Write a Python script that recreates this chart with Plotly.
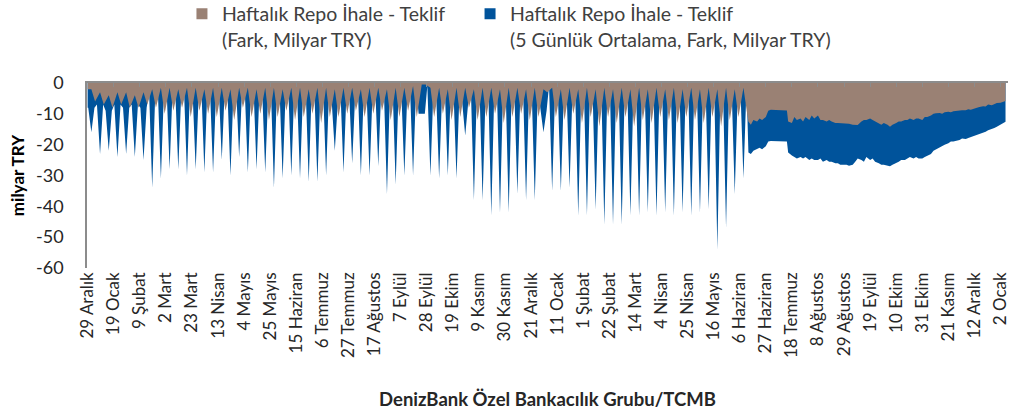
import plotly.graph_objects as go
import pandas as pd

# ---------------- data ----------------
# Phase 1: weekly cycle (week starting Monday), values in milyar TRY
week_start = "2014-12-29"
blue_trough = [-16, -23, -22, -24, -23, -24, -25, -34, -31, -28,
               -28, -30, -28, -29, -29, -25, -30, -24, -29, -28,
               -29, -34, -31, -30, -31, -32, -32, -30, -22, -29,
               -26, -30, -30, -27, -36, -33, -30, -30, -10, -30,
               -31, -30, -31, -17, -38, -38, -43, -42, -42, -36,
               -38, -38, -16, -35, -35, -34, -43, -43, -41, -46,
               -46, -46, -43, -43, -42, -43, -42, -43, -42, -43,
               -42, -41, -54, -47, -36, -31]
blue_base = [-8, -7, -9, -7, -8, -7, -8, -3, -2, -1,
             -2, -1, -3, -1, -2, -1, -2, -1, -2, -1,
             -2, -1, -2, -1, -2, -1, -2, -1, -6, -2,
             -3, -1, -2, -1, -2, -1, -2, -1, -10, -1,
             -2, -1, -2, -6, -1, -2, -1, -2, -1, -2,
             -1, -2, -9, -1, -2, -1, -2, -1, -2, -1,
             -2, -1, -2, -1, -2, -1, -2, -1, -2, -1,
             -2, -1, -2, -1, -2, -1]
brown_trough = [-6, -7, -8, -7, -8, -8, -7, -8, -10, -9,
                -8, -11, -9, -10, -11, -9, -12, -8, -11, -10,
                -12, -11, -9, -12, -11, -10, -13, -11, -11, -10,
                -9, -11, -10, -9, -12, -11, -9, -11, -0.5, -11,
                -10, -12, -11, -8, -12, -11, -10, -13, -11, -10,
                -12, -11, -3, -11, -12, -10, -13, -11, -14, -11,
                -13, -11, -14, -12, -13, -11, -12, -13, -11, -12,
                -13, -11, -14, -12, -11, -10]
brown_base = [-2, -3, -4, -3, -3, -4, -3, -2, -1.5, -1.5,
              -2, -1.5, -1.5, -2, -1.5, -1.5, -2, -1.5, -1.5, -2,
              -1.5, -1.5, -2, -1.5, -1.5, -2, -1.5, -1.5, -2, -1.5,
              -1.5, -2, -1.5, -1.5, -2, -1.5, -1.5, -1, -0.5, -1.5,
              -1.5, -2, -1.5, -1.5, -2, -1.5, -1.5, -2, -1.5, -1.5,
              -2, -1.5, -2, -1.5, -2, -1.5, -2, -1.5, -2, -1.5,
              -2, -1.5, -2, -1.5, -2, -1.5, -2, -1.5, -2, -1.5,
              -2, -1.5, -2, -1.5, -2, -1.5]

# Phase 2: continuous band
p2_dates = ["2016-06-13", "2016-06-15", "2016-06-17", "2016-06-20", "2016-06-22", "2016-06-24",
            "2016-06-27", "2016-06-29", "2016-07-01", "2016-07-14", "2016-07-15", "2016-07-18",
            "2016-07-20", "2016-07-22", "2016-07-25", "2016-07-27", "2016-07-29", "2016-08-01",
            "2016-08-03", "2016-08-05", "2016-08-08", "2016-08-10", "2016-08-12", "2016-08-15",
            "2016-08-17", "2016-08-19", "2016-08-22", "2016-08-24", "2016-08-26", "2016-08-29",
            "2016-08-31", "2016-09-02", "2016-09-05", "2016-09-07", "2016-09-09", "2016-09-12",
            "2016-09-14", "2016-09-16", "2016-09-19", "2016-09-21", "2016-09-23", "2016-09-26",
            "2016-09-28", "2016-09-30", "2016-10-03", "2016-10-05", "2016-10-07", "2016-10-10",
            "2016-10-12", "2016-10-14", "2016-10-17", "2016-10-19", "2016-10-21", "2016-10-24",
            "2016-10-26", "2016-10-28", "2016-10-31", "2016-11-02", "2016-11-04", "2016-11-07",
            "2016-11-09", "2016-11-11", "2016-11-14", "2016-11-16", "2016-11-18", "2016-11-21",
            "2016-11-23", "2016-11-25", "2016-11-28", "2016-11-30", "2016-12-02", "2016-12-05",
            "2016-12-07", "2016-12-09", "2016-12-12", "2016-12-14", "2016-12-16", "2016-12-19",
            "2016-12-21", "2016-12-23", "2016-12-26", "2016-12-28", "2016-12-30", "2017-01-02",
            "2017-01-04", "2017-01-06"]
p2_brown = [-12.5, -13.5, -12.0, -12.5, -11.5, -12.0,
            -11.0, -9.0, -8.7, -8.9, -12.5, -13.0,
            -11.0, -12.0, -11.5, -12.5, -11.0, -12.0,
            -10.5, -11.5, -10.5, -12.0, -12.0, -12.5,
            -12.0, -12.5, -13.0, -13.0, -13.0, -13.0,
            -13.0, -13.2, -13.5, -13.6, -13.6, -12.5,
            -12.0, -12.0, -11.5, -12.0, -12.5, -13.0,
            -13.5, -13.0, -13.5, -14.2, -13.5, -13.0,
            -12.5, -12.5, -12.0, -12.0, -11.5, -12.0,
            -11.5, -11.5, -12.0, -11.0, -11.0, -10.5,
            -10.0, -9.8, -9.7, -10.0, -9.5, -9.3,
            -9.5, -9.2, -9.0, -9.0, -8.8, -8.8,
            -8.5, -8.7, -8.2, -8.0, -7.8, -7.5,
            -7.6, -7.0, -7.2, -6.8, -6.5, -6.4,
            -6.0, -5.8]
p2_blue = [-22.5, -23.0, -22.0, -21.5, -21.0, -21.5,
           -20.5, -19.0, -18.8, -19.0, -22.5, -23.5,
           -24.0, -24.5, -24.0, -24.5, -24.0, -25.0,
           -24.5, -25.0, -25.0, -24.5, -25.5, -25.0,
           -25.5, -25.5, -26.0, -26.0, -26.5, -26.5,
           -26.5, -26.8, -26.5, -25.5, -24.5, -25.0,
           -25.5, -24.0, -25.0, -24.5, -25.5, -26.0,
           -26.5, -26.5, -26.8, -27.0, -26.5, -26.0,
           -25.5, -25.0, -25.0, -24.5, -24.0, -24.5,
           -24.0, -24.5, -24.5, -24.0, -23.5, -23.0,
           -22.0, -21.5, -21.0, -20.5, -20.0, -19.5,
           -19.0, -19.0, -18.8, -18.5, -18.0, -18.2,
           -17.8, -17.5, -17.2, -17.0, -16.5, -16.2,
           -15.8, -15.3, -15.0, -14.6, -14.2, -13.5,
           -13.0, -12.6]

tick_dates = ["2014-12-29", "2015-01-19", "2015-02-09", "2015-03-02", "2015-03-23", "2015-04-13",
              "2015-05-04", "2015-05-25", "2015-06-15", "2015-07-06", "2015-07-27", "2015-08-17",
              "2015-09-07", "2015-09-28", "2015-10-19", "2015-11-09", "2015-11-30", "2015-12-21",
              "2016-01-11", "2016-02-01", "2016-02-22", "2016-03-14", "2016-04-04", "2016-04-25",
              "2016-05-16", "2016-06-06", "2016-06-27", "2016-07-18", "2016-08-08", "2016-08-29",
              "2016-09-19", "2016-10-10", "2016-10-31", "2016-11-21", "2016-12-12", "2017-01-02"]
tick_labels = ["29 Aralık", "19 Ocak", "9 Şubat", "2 Mart", "23 Mart", "13 Nisan",
               "4 Mayıs", "25 Mayıs", "15 Haziran", "6 Temmuz", "27 Temmuz", "17 Ağustos",
               "7 Eylül", "28 Eylül", "19 Ekim", "9 Kasım", "30 Kasım", "21 Aralık",
               "11 Ocak", "1 Şubat", "22 Şubat", "14 Mart", "4 Nisan", "25 Nisan",
               "16 Mayıs", "6 Haziran", "27 Haziran", "18 Temmuz", "8 Ağustos", "29 Ağustos",
               "19 Eylül", "10 Ekim", "31 Ekim", "21 Kasım", "12 Aralık", "2 Ocak"]
y_ticks = [0, -10, -20, -30, -40, -50, -60]
y_labels = ["0", "-10", "-20", "-30", "-40", "-50", "-60"]

name_brown = "Haftalık Repo İhale - Teklif<br>(Fark, Milyar TRY)"
name_blue = "Haftalık Repo İhale - Teklif<br>(5 Günlük Ortalama, Fark, Milyar TRY)"

# ---------------- build series ----------------
mondays = pd.date_range(week_start, periods=len(blue_trough), freq="7D")
D = pd.Timedelta(days=1)
H = pd.Timedelta(hours=12)

blue_x, blue_y = [mondays[0]], [blue_base[0]]
brown_x, brown_y = [mondays[0]], [brown_base[0]]
for m, lo, hi, blo, bhi in zip(mondays, blue_trough, blue_base, brown_trough, brown_base):
    blue_x += [m + H, m + 3 * D, m + 5 * D + H]
    blue_y += [hi, lo, hi]
    brown_x += [m + 3 * D, m + 6 * D]
    brown_y += [bhi, blo]

p2 = pd.to_datetime(p2_dates)
blue_x += list(p2)
blue_y += p2_blue
brown_x += list(p2)
brown_y += p2_brown

BLUE = "#00539B"
BROWN = "#9A8174"
AXIS = "#8C8C8C"
FONT = "Lato"
xrange = ["2014-12-28 12:00", "2017-01-08"]

fig = go.Figure()
fig.add_trace(go.Scatter(x=blue_x, y=blue_y, mode="lines", fill="tozeroy",
                         line=dict(width=0, color=BLUE), fillcolor=BLUE,
                         showlegend=False, hoverinfo="skip"))
fig.add_trace(go.Scatter(x=brown_x, y=brown_y, mode="lines", fill="tozeroy",
                         line=dict(width=0, color=BROWN), fillcolor=BROWN,
                         showlegend=False, xaxis="x2", hoverinfo="skip"))
# legend entries (square swatches), one legend box each
fig.add_trace(go.Scatter(x=[None], y=[None], mode="markers", name=name_brown,
                         marker=dict(symbol="square", size=11, color=BROWN), legend="legend"))
fig.add_trace(go.Scatter(x=[None], y=[None], mode="markers", name=name_blue,
                         marker=dict(symbol="square", size=11, color=BLUE), legend="legend2"))

leg_common = dict(orientation="h", xanchor="left", y=1.478, yanchor="top",
                  font=dict(size=19.5, color="#404040", family=FONT), valign="top",
                  bgcolor="rgba(0,0,0,0)", itemclick=False, itemwidth=30)

fig.update_layout(
    width=1010, height=416,
    margin=dict(l=87, r=2, t=83, b=148, autoexpand=False),
    paper_bgcolor="white", plot_bgcolor="white",
    font=dict(family=FONT, color="#262626"),
    showlegend=True,
    legend=dict(x=0.1031, **leg_common),
    legend2=dict(x=0.4159, **leg_common),
    xaxis=dict(type="date", range=xrange, tickvals=tick_dates, ticktext=tick_labels,
               tickangle=-90, tickfont=dict(size=17, family=FONT, color="#262626"),
               showline=False, showgrid=False, zeroline=False, ticks="",
               automargin=False, ticklabeloverflow="allow",
               title=dict(text="<b>DenizBank Özel Bankacılık Grubu/TCMB</b>",
                          font=dict(size=18.5, family=FONT, color="#262626"), standoff=36)),
    xaxis2=dict(type="date", range=xrange, overlaying="x", side="top", anchor="y",
                tickvals=tick_dates, showticklabels=False, showline=True,
                linecolor=AXIS, linewidth=2, ticks="inside", ticklen=4, tickcolor=AXIS,
                showgrid=False, zeroline=False, automargin=False),
    yaxis=dict(range=[-60, 0], tickvals=y_ticks, ticktext=y_labels,
               showline=True, linecolor=AXIS, linewidth=1.5,
               showgrid=False, zeroline=False, ticks="", ticklabelstandoff=18,
               tickfont=dict(size=18, family=FONT, color="#262626"), automargin=False,
               title=dict(text="<b>milyar TRY</b>", font=dict(size=17, family=FONT, color="#000"),
                          standoff=7)),
)

fig.write_html("out.html", config={"displayModeBar": False},
               post_script="document.body.style.margin='0';document.body.style.overflow='hidden';")
